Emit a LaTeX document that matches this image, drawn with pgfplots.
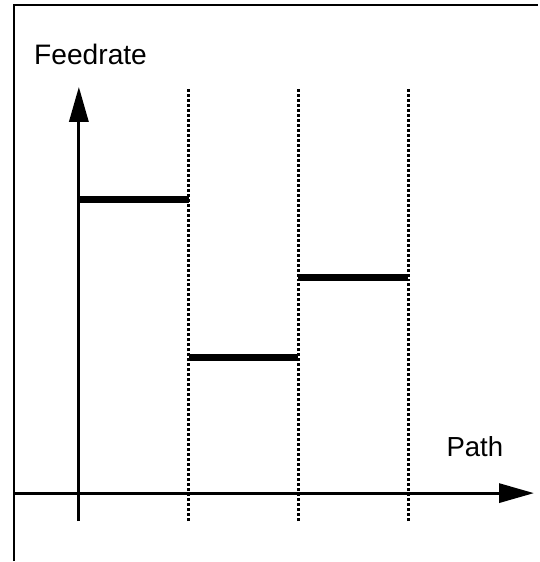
\documentclass[border=0pt]{standalone}
\usepackage{fontspec}
\setmainfont{Liberation Sans}
\usepackage{pgfplots}
\pgfplotsset{compat=1.18}
\usetikzlibrary{arrows.meta}

% path segments: feedrate held constant between block boundaries
\pgfplotstableread{
x y
0 2.94
1 2.94
nan nan
1 1.36
2 1.36
nan nan
2 2.16
3 2.16
}\feed

\begin{document}
\begin{tikzpicture}
\begin{axis}[
  width=269.5pt, height=281pt,
  scale only axis,
  xmin=-0.71818, xmax=4.18182,
  ymin=-0.68, ymax=4.94,
  axis lines=none,
  ticks=none,
  clip=false,
  unbounded coords=jump,
]
% bounding box = whole figure
\path (axis cs:-0.71818,-0.68) rectangle (axis cs:4.18182,4.94);
% frame (left and top edges)
\draw[black, line width=1pt] (axis cs:-0.591,-0.68) -- (axis cs:-0.591,4.89) -- (axis cs:4.18182,4.89);
% block boundaries
\foreach \b in {1,2,3}{
  \edef\tmp{\noexpand\draw[black, line width=1.5pt, dash pattern=on 1.5pt off 1pt]
    (axis cs:\b,-0.28) -- (axis cs:\b,4.07);}
  \tmp
}
% axes
\draw[black, line width=1.6pt, -{Triangle[length=17.5pt,width=9.5pt]}]
  (axis cs:-0.591,0) -- (axis cs:4.145,0);
\draw[black, line width=1.6pt, -{Triangle[length=17.5pt,width=9.5pt]}]
  (axis cs:0,-0.28) -- (axis cs:0,4.07);
\addplot[black, line width=3.8pt, no markers] table {\feed};
\node[anchor=base west, font=\fontsize{14.1}{16}\selectfont, inner sep=0pt]
  at (axis cs:-0.41,4.29) {Feedrate};
\node[anchor=base west, font=\fontsize{13.8}{16}\selectfont, inner sep=0pt]
  at (axis cs:3.345,0.37) {Path};
\end{axis}
\end{tikzpicture}
\end{document}
